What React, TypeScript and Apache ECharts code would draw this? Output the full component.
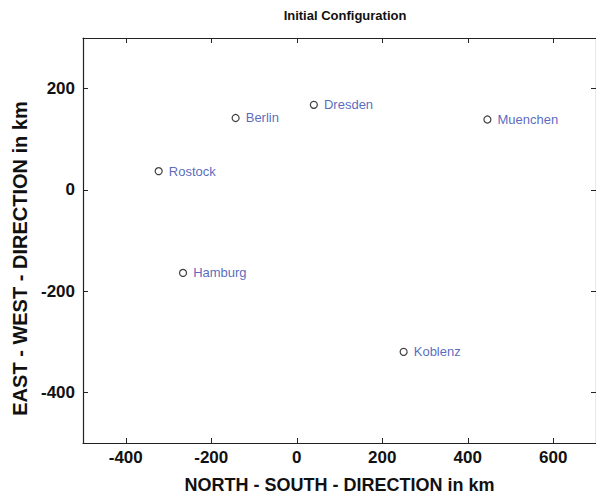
import React, { useEffect, useRef } from "react";
import * as echarts from "echarts";

const cities = ["Berlin", "Dresden", "Hamburg", "Koblenz", "Muenchen", "Rostock"];
const northSouth = [-143, 40, -266, 250, 446, -323];
const eastWest = [142, 168, -164, -320, 139, 37];
const xTicks = [-400, -200, 0, 200, 400, 600];
const yTicks = [-400, -200, 0, 200];

const FONT = "'Liberation Sans', Arial, Helvetica, sans-serif";

export default function App() {
  const ref = useRef<HTMLDivElement>(null);
  useEffect(() => {
    if (!ref.current) return;
    const chart = echarts.init(ref.current, null, { renderer: "svg" });
    const lineStyle = { color: "#222", width: 1.2 };
    const tickStyle = { color: "#222", width: 1 };
    chart.setOption({
      animation: false,
      backgroundColor: "#fff",
      textStyle: { fontFamily: FONT },
      title: {
        text: "Initial Configuration",
        left: 340,
        top: 4,
        textAlign: "center",
        textStyle: { fontFamily: FONT, fontSize: 13, fontWeight: "bold", color: "#111" },
      },
      grid: { left: 83, top: 38, right: 0, bottom: 56, containLabel: false },
      xAxis: [
        {
          type: "value",
          position: "bottom",
          min: -500,
          max: 700,
          splitLine: { show: false },
          axisLine: { show: true, onZero: false, lineStyle },
          axisTick: { show: true, inside: true, length: 5, lineStyle: tickStyle, customValues: xTicks },
          axisLabel: {
            customValues: xTicks,
            margin: 6,
            fontSize: 17,
            fontWeight: "bold",
            color: "#111",
            fontFamily: FONT,
          },
          name: "NORTH - SOUTH - DIRECTION in km",
          nameLocation: "middle",
          nameGap: 33,
          nameTextStyle: { fontSize: 18, fontWeight: "bold", color: "#111", fontFamily: FONT },
        },
        {
          type: "value",
          position: "top",
          min: -500,
          max: 700,
          splitLine: { show: false },
          axisLine: { show: true, onZero: false, lineStyle },
          axisTick: { show: true, inside: true, length: 5, lineStyle: tickStyle, customValues: xTicks },
          axisLabel: { show: false },
        },
      ],
      yAxis: [
        {
          type: "value",
          position: "left",
          min: -500,
          max: 300,
          splitLine: { show: false },
          axisLine: { show: true, onZero: false, lineStyle },
          axisTick: { show: true, inside: true, length: 5, lineStyle: tickStyle, customValues: yTicks },
          axisLabel: {
            customValues: yTicks,
            margin: 8,
            fontSize: 17,
            fontWeight: "bold",
            color: "#111",
            fontFamily: FONT,
          },
          name: "EAST - WEST - DIRECTION in km",
          nameLocation: "middle",
          nameGap: 53,
          nameTextStyle: {
            fontSize: 20,
            fontWeight: "bold",
            color: "#111",
            fontFamily: FONT,
            padding: [0, 36, 0, 0],
          },
        },
        {
          type: "value",
          position: "right",
          min: -500,
          max: 300,
          splitLine: { show: false },
          axisLine: { show: true, onZero: false, lineStyle },
          axisTick: { show: true, inside: true, length: 5, lineStyle: tickStyle, customValues: yTicks },
          axisLabel: { show: false },
        },
      ],
      series: [
        {
          type: "scatter",
          xAxisIndex: 0,
          yAxisIndex: 0,
          symbol: "circle",
          symbolSize: 7,
          itemStyle: { color: "#fff", borderColor: "#111", borderWidth: 1.2 },
          label: {
            show: true,
            position: "right",
            distance: 6,
            formatter: (p: any) => p.data[2],
            color: "#2e44ad",
            fontSize: 13,
            fontFamily: FONT,
          },
          data: cities.map((c, i) => [northSouth[i], eastWest[i], c]),
        },
      ],
    });
    return () => chart.dispose();
  }, []);
  return (
    <div
      ref={ref}
      style={{ position: "fixed", left: 0, top: 0, width: 596, height: 499 }}
    />
  );
}
